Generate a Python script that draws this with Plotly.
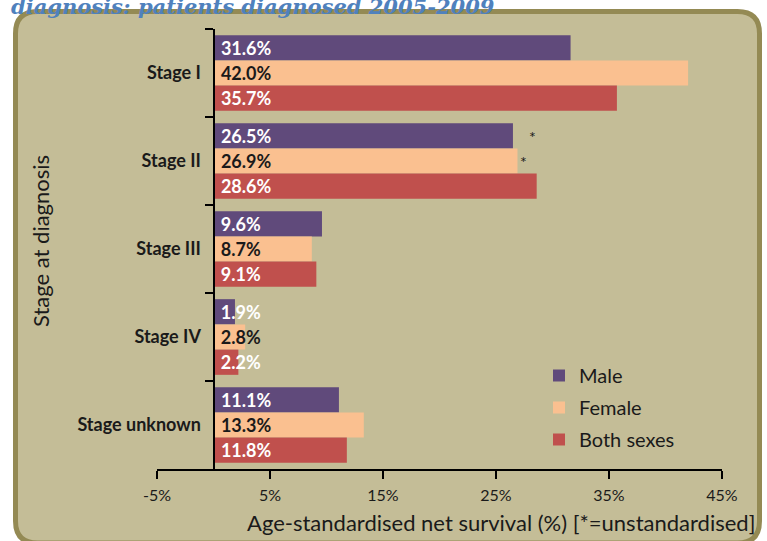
import plotly.graph_objects as go

# ---------------- data ----------------
stages = ["Stage I", "Stage II", "Stage III", "Stage IV", "Stage unknown"]
male = [31.6, 26.5, 9.6, 1.9, 11.1]
female = [42.0, 26.9, 8.7, 2.8, 13.3]
both_sexes = [35.7, 28.6, 9.1, 2.2, 11.8]
series_names = ["Male", "Female", "Both sexes"]
x_range = [-5, 45]
x_tick_vals = [-5, 5, 15, 25, 35, 45]
x_tick_labels = ["-5%", "5%", "15%", "25%", "35%", "45%"]
# (series, stage) pairs marked as unstandardised
unstandardised = [("Male", "Stage II"), ("Female", "Stage II")]
title_text = "diagnosis: patients diagnosed 2005-2009"
x_title = "Age-standardised net survival (%) [*=unstandardised]"
y_title = "Stage at diagnosis"

# ---------------- layout geometry ----------------
W, H = 767, 541
L, R, T, B = 157, 45, 29, 72
PW, PH = W - L - R, H - T - B


def px(x):
    return (x - L) / PW


def py(y):
    return 1 - (y - T) / PH


colors = ["#604A7B", "#FAC090", "#C0504D"]
text_colors = ["#FFFFFF", "#1A1A1A", "#FFFFFF"]
FONT = "Lato"

fig = go.Figure()
values_by_series = [male, female, both_sexes]
for name, vals, c, tc in zip(series_names, values_by_series, colors, text_colors):
    fig.add_trace(go.Bar(
        y=stages, x=vals, orientation="h", name=name,
        marker=dict(color=c, line=dict(width=0)),
        text=["\u00a0" + f"{v:.1f}%" for v in vals],
        textposition="inside", insidetextanchor="start",
        constraintext="none", textangle=0,
        insidetextfont=dict(family=FONT, size=18, color=tc, weight="bold"),
        legendgroup=name, cliponaxis=False, hoverinfo="skip",
    ))

# rounded frame
x0, y0, x1, y1, r = 15.5, 11.5, 759.5, 543, 22
pts = [
    ("M", (x0 + r, y0)), ("L", (x1 - r, y0)), ("Q", (x1, y0), (x1, y0 + r)),
    ("L", (x1, y1 - r)), ("Q", (x1, y1), (x1 - r, y1)), ("L", (x0 + r, y1)),
    ("Q", (x0, y1), (x0, y1 - r)), ("L", (x0, y0 + r)), ("Q", (x0, y0), (x0 + r, y0)),
]
path = ""
for seg in pts:
    cmd = seg[0]
    coords = " ".join(f"{px(a):.5f},{py(b):.5f}" for a, b in seg[1:])
    path += f"{cmd}{coords} "
path += "Z"

fig.add_shape(type="path", path=path, xref="paper", yref="paper",
              fillcolor="#C4BD97", line=dict(color="#948A54", width=5), layer="below")

annotations = [
    dict(text=f"<b><i>{title_text}</i></b>", x=px(9), y=py(21), xref="paper", yref="paper",
         xanchor="left", yanchor="bottom", showarrow=False,
         font=dict(family="DejaVu Serif", size=21, color="#4F81BD")),
    dict(text=x_title, x=px(757), y=py(522), xref="paper", yref="paper",
         xanchor="right", yanchor="middle", showarrow=False,
         font=dict(family=FONT, size=22, color="#1A1A1A")),
    dict(text=y_title, x=px(40), y=py(241), xref="paper", yref="paper",
         xanchor="center", yanchor="middle", textangle=-90, showarrow=False,
         font=dict(family=FONT, size=22, color="#1A1A1A")),
]
star_offsets = {"Male": (20, 25), "Female": (6, 0)}
for sname, stage in unstandardised:
    vals = values_by_series[series_names.index(sname)]
    xv = vals[stages.index(stage)]
    dx, dy = star_offsets[sname]
    annotations.append(dict(text="*", x=xv, y=stage, xref="x", yref="y",
                            xanchor="center", yanchor="middle", xshift=dx, yshift=dy,
                            showarrow=False, font=dict(family=FONT, size=16, color="#1A1A1A")))

fig.update_layout(
    width=W, height=H,
    margin=dict(l=L, r=R, t=T, b=B, pad=0),
    paper_bgcolor="#FFFFFF", plot_bgcolor="rgba(0,0,0,0)",
    barmode="group", bargap=0.14, bargroupgap=0,
    xaxis=dict(range=x_range, tickvals=x_tick_vals, ticktext=x_tick_labels,
               showline=True, linecolor="black", linewidth=2,
               ticks="outside", ticklen=8, tickwidth=2, tickcolor="black",
               showgrid=False, zeroline=False, anchor="y", ticklabelstandoff=3,
               tickfont=dict(family=FONT, size=16, color="#1A1A1A")),
    yaxis=dict(type="category", categoryorder="array", categoryarray=stages,
               autorange="reversed", anchor="free",
               position=(0 - x_range[0]) / (x_range[1] - x_range[0]),
               showline=True, linecolor="black", linewidth=2,
               ticks="outside", ticklen=8, tickwidth=2, tickcolor="black",
               tickson="boundaries", showgrid=False, zeroline=False,
               ticklabelstandoff=8,
               tickfont=dict(family=FONT, size=18, color="#1A1A1A", weight="bold")),
    legend=dict(x=px(539), y=py(356), xanchor="left", yanchor="top",
                font=dict(family=FONT, size=20, color="#1A1A1A"),
                bgcolor="rgba(0,0,0,0)", tracegroupgap=3, traceorder="grouped"),
    annotations=annotations,
    showlegend=True,
)

fig.write_html("out.html", config={"displayModeBar": False},
               post_script="document.body.style.margin='0';document.body.style.overflow='hidden';")
